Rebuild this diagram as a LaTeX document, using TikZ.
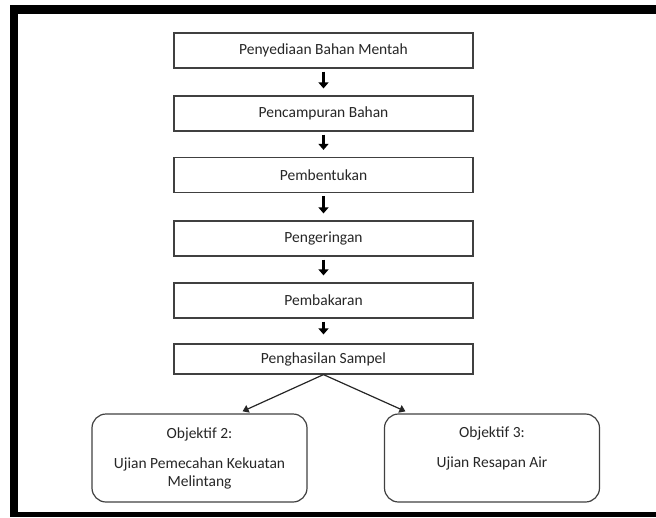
\documentclass[tikz,border=0pt]{standalone}
\usepackage{fontspec}
\setmainfont{Carlito}
\usetikzlibrary{arrows.meta}
\begin{document}
\begin{tikzpicture}[x=1pt,y=-1pt,
  txt/.style={font=\fontsize{15.5}{18}\selectfont, text=black!85},
  stepbox/.style={txt, draw=black!75, line width=1.2pt, minimum width=299pt, minimum height=35pt, inner sep=0pt},
  objbox/.style={txt, draw=black!75, line width=1.2pt, rounded corners=14pt, minimum width=215pt, minimum height=88pt, align=center, inner sep=0pt},
  thick arrow/.style={line width=3.6pt, -{Triangle[width=10pt,length=6pt]}, shorten <=3pt, shorten >=7pt},
  thin arrow/.style={line width=1.2pt, black!85, -{Triangle[width=8pt,length=6pt]}, shorten >=5pt}
]
\useasboundingbox (0,0) rectangle (656,517);
% frame
\fill[black] (10,5) rectangle (656,13.5);
\fill[black] (10,5) rectangle (18,517);
\fill[black] (10,511.5) rectangle (656,517);
% steps
\node[stepbox] (b1) at (323.5,50.5) {Penyediaan Bahan Mentah};
\node[stepbox] (b2) at (323.5,113.5) {Pencampuran Bahan};
\node[stepbox] (b3) at (323.5,175) {Pembentukan};
\node[stepbox] (b4) at (323.5,238.5) {Pengeringan};
\node[stepbox] (b5) at (323.5,300.5) {Pembakaran};
\node[stepbox, minimum height=30pt] (b6) at (323.5,359) {Penghasilan Sampel};
\node[objbox] (o2) at (199.5,458) {Objektif 2:\\[12pt]Ujian Pemecahan Kekuatan\\Melintang};
\node[objbox] (o3) at (492,458) {Objektif 3:\\[12pt]Ujian Resapan Air\\[4pt]\mbox{}};
% arrows
\draw[thick arrow] (b1) -- (b2);
\draw[thick arrow] (b2) -- (b3);
\draw[thick arrow] (b3) -- (b4);
\draw[thick arrow] (b4) -- (b5);
\draw[thick arrow, shorten >=9pt] (b5) -- (b6);
\draw[thin arrow] (b6.south) -- (o2.north -| 238,0);
\draw[thin arrow] (b6.south) -- (o3.north -| 410,0);
\end{tikzpicture}
\end{document}
